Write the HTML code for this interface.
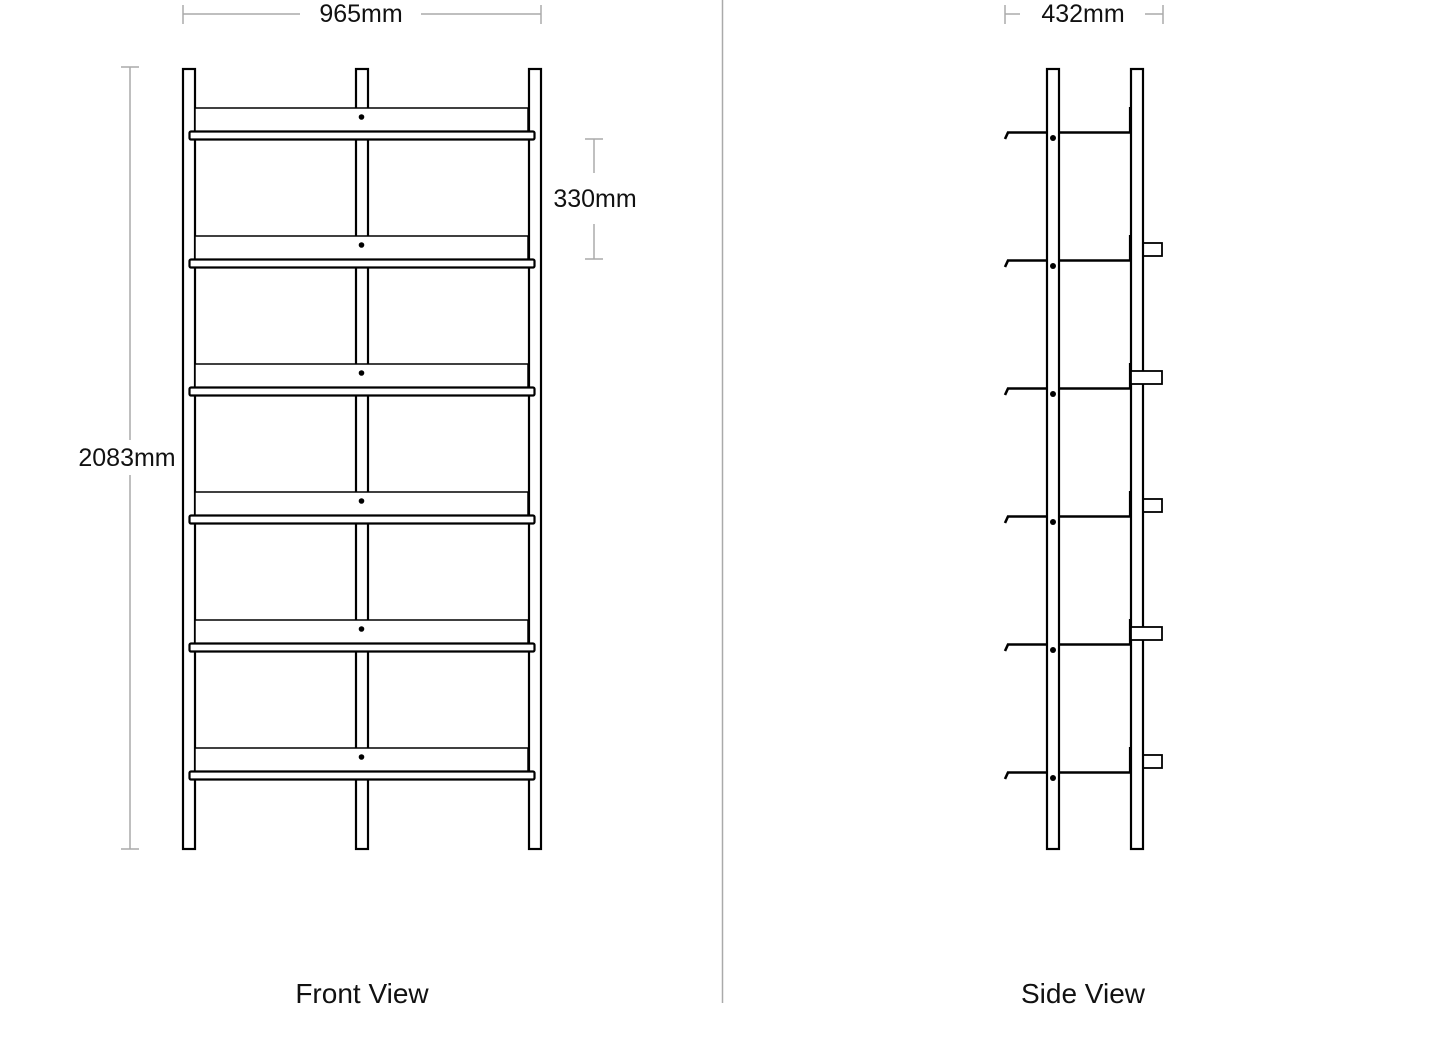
<!DOCTYPE html>
<html><head><meta charset="utf-8"><style>
html,body{margin:0;padding:0;background:#fff}
svg{display:block}
text{font-family:"Liberation Sans",sans-serif;fill:#111}
</style></head><body>
<svg width="1445" height="1055" viewBox="0 0 1445 1055" xmlns="http://www.w3.org/2000/svg">
<defs>
<g id="fs">
  <rect x="195" y="108" width="333" height="24" fill="#fff" stroke="#000" stroke-width="1.5"/>
  <rect x="189.5" y="131.5" width="345" height="8" rx="1.5" fill="#fff" stroke="#000" stroke-width="2.2"/>
  <circle cx="361.5" cy="117" r="2.8" fill="#000"/>
</g>
<g id="ss">
  <path d="M1005,139 L1008,132.5 L1130,132.5" fill="none" stroke="#000" stroke-width="2.6"/>
</g>
</defs>
<line x1="722.5" y1="0" x2="722.5" y2="1003" stroke="#aaa" stroke-width="1.5"/>

<g stroke="#aaa" stroke-width="1.5">
<line x1="183" y1="14" x2="300" y2="14"/><line x1="421" y1="14" x2="541" y2="14"/>
<line x1="183" y1="5" x2="183" y2="24"/><line x1="541" y1="5" x2="541" y2="24"/>
<line x1="130" y1="67" x2="130" y2="440"/><line x1="130" y1="475" x2="130" y2="849"/>
<line x1="121" y1="67" x2="139" y2="67"/><line x1="121" y1="849" x2="139" y2="849"/>
<line x1="594" y1="139" x2="594" y2="173"/><line x1="594" y1="224" x2="594" y2="259"/>
<line x1="585" y1="139" x2="603" y2="139"/><line x1="585" y1="259" x2="603" y2="259"/>
<line x1="1005" y1="14" x2="1020" y2="14"/><line x1="1145" y1="14" x2="1163" y2="14"/>
<line x1="1005" y1="5" x2="1005" y2="24"/><line x1="1163" y1="5" x2="1163" y2="24"/>
</g>
<text x="361" y="22" font-size="25" text-anchor="middle">965mm</text>
<text x="127" y="466" font-size="25" text-anchor="middle">2083mm</text>
<text x="595" y="207" font-size="25" text-anchor="middle">330mm</text>
<text x="1083" y="22" font-size="25" text-anchor="middle">432mm</text>

<g fill="#fff" stroke="#000" stroke-width="2.2">
<rect x="183" y="69" width="12" height="780"/>
<rect x="356" y="69" width="12" height="780"/>
<rect x="529" y="69" width="12" height="780"/>
</g>
<use href="#fs"/>
<use href="#fs" transform="translate(0,128)"/>
<use href="#fs" transform="translate(0,256)"/>
<use href="#fs" transform="translate(0,384)"/>
<use href="#fs" transform="translate(0,512)"/>
<use href="#fs" transform="translate(0,640)"/>

<use href="#ss"/>
<use href="#ss" transform="translate(0,128)"/>
<use href="#ss" transform="translate(0,256)"/>
<use href="#ss" transform="translate(0,384)"/>
<use href="#ss" transform="translate(0,512)"/>
<use href="#ss" transform="translate(0,640)"/>
<g fill="#fff" stroke="#000" stroke-width="1.8">
<rect x="1143" y="243" width="19" height="13"/>
<rect x="1143" y="499" width="19" height="13"/>
<rect x="1143" y="755" width="19" height="13"/>
</g>
<g fill="#fff" stroke="#000" stroke-width="2.2">
<rect x="1047" y="69" width="12" height="780"/>
<rect x="1131" y="69" width="12" height="780"/>
</g>
<g fill="#fff" stroke="#000" stroke-width="1.8">
<rect x="1131" y="371" width="31" height="13"/>
<rect x="1131" y="627" width="31" height="13"/>
</g>
<g stroke="#000" stroke-width="2.2">
<line x1="1130" y1="107" x2="1130" y2="133"/>
<line x1="1130" y1="235" x2="1130" y2="261"/>
<line x1="1130" y1="363" x2="1130" y2="389"/>
<line x1="1130" y1="491" x2="1130" y2="517"/>
<line x1="1130" y1="619" x2="1130" y2="645"/>
<line x1="1130" y1="747" x2="1130" y2="773"/>
</g>
<g fill="#000">
<circle cx="1053" cy="138" r="3"/>
<circle cx="1053" cy="266" r="3"/>
<circle cx="1053" cy="394" r="3"/>
<circle cx="1053" cy="522" r="3"/>
<circle cx="1053" cy="650" r="3"/>
<circle cx="1053" cy="778" r="3"/>
</g>

<text x="362" y="1003" font-size="28" text-anchor="middle">Front View</text>
<text x="1083" y="1003" font-size="28" text-anchor="middle">Side View</text>
</svg>
</body></html>
